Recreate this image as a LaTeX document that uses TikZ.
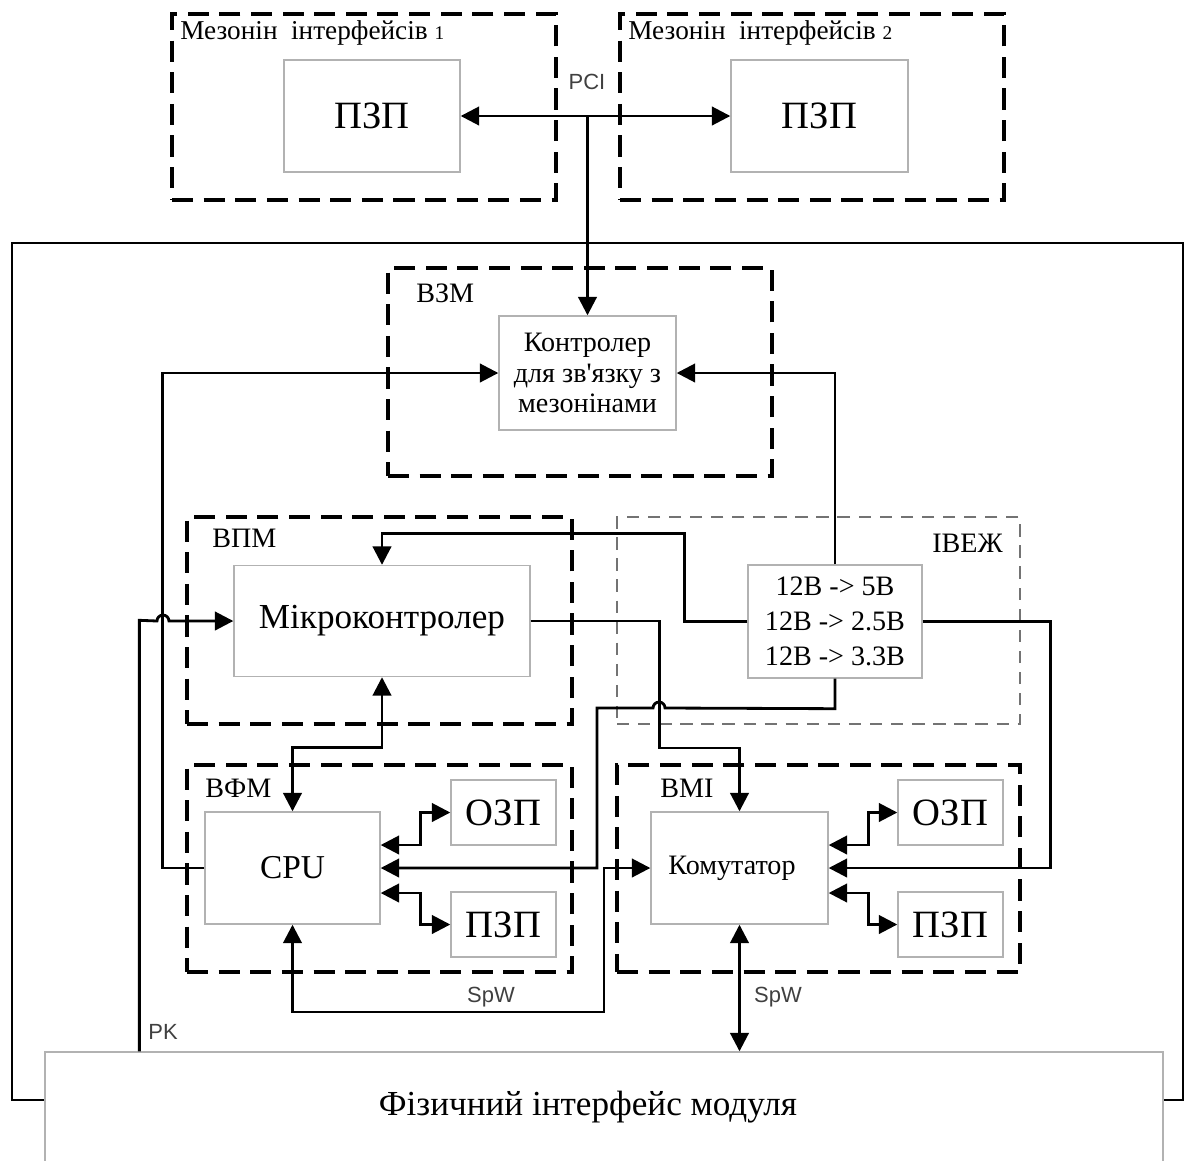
\documentclass[tikz,border=0pt]{standalone}
\usepackage{fontspec}
\setmainfont{Liberation Serif}[Ligatures=TeXOff]
\newfontfamily\sansf{Liberation Sans}
\usetikzlibrary{arrows.meta}

\newcommand{\fntBig}{\fontsize{22}{24}\selectfont}
\newcommand{\fntMcu}{\fontsize{20}{22}\selectfont}
\newcommand{\fntTxt}{\fontsize{16}{17.6}\selectfont}
\newcommand{\fntSig}{\sansf\fontsize{12.5}{13}\selectfont}

\begin{document}
\begin{tikzpicture}[x=0.02cm,y=-0.02cm,>={Triangle[length=10.5pt,width=10.5pt]},
  blk/.style={draw=black!30,line width=0.8pt,fill=white,inner sep=0pt,align=center},
  grp/.style={draw,line width=1.8pt,dash pattern=on 12pt off 6pt,inner sep=0pt},
  grpg/.style={draw=black!55,line width=1.1pt,dash pattern=on 7pt off 5pt,inner sep=0pt},
  wire/.style={line width=1.6pt},
  lbl/.style={anchor=west,inner sep=0pt,font=\fntTxt},
  sig/.style={inner sep=0pt,text=black!75,font=\fntSig}]
  \def\jr{3.4pt}   % radius of the crossing bumps
  \clip (0,0) rectangle (1187,1160);

  % module frame
  \draw[line width=1.5pt] (12,243) rectangle (1183,1100);

  % dashed functional groups
  \node[grp,minimum width=7.68cm,minimum height=3.72cm] (mezA) at (364,107) {};
  \node[grp,minimum width=7.68cm,minimum height=3.72cm] (mezB) at (812,107) {};
  \node[grp,minimum width=7.68cm,minimum height=4.16cm] (vzm) at (580,372) {};
  \node[grp,minimum width=7.70cm,minimum height=4.14cm] (vpm) at (379.5,620.5) {};
  \node[grpg,minimum width=8.06cm,minimum height=4.14cm] (ivezh) at (818.5,620.5) {};
  \node[grp,minimum width=7.70cm,minimum height=4.14cm] (vfm) at (379.5,868.5) {};
  \node[grp,minimum width=8.06cm,minimum height=4.14cm] (vmi) at (818.5,868.5) {};

  % group captions
  \node[lbl,font=\fontsize{15.5}{16}\selectfont] (mezAL) at (180,33) {Мезонін~~інтерфейсів {\fontsize{11}{11}\selectfont 1}};
  \node[lbl,font=\fontsize{15.5}{16}\selectfont] (mezBL) at (628,33) {Мезонін~~інтерфейсів {\fontsize{11}{11}\selectfont 2}};
  \node[lbl] (vzmL) at (416,293) {ВЗМ};
  \node[lbl] (vpmL) at (212,538) {ВПМ};
  \node[lbl] (ivezhL) at (932,543) {ІВЕЖ};
  \node[lbl] (vfmL) at (205,788) {ВФМ};
  \node[lbl] (vmiL) at (660,788) {ВМІ};

  % blocks
  \node[blk,minimum width=3.52cm,minimum height=2.24cm,font=\fntBig] (pzpA) at (372,116) {ПЗП};
  \node[blk,minimum width=3.54cm,minimum height=2.24cm,font=\fntBig] (pzpB) at (819.5,116) {ПЗП};
  \node[blk,minimum width=3.54cm,minimum height=2.28cm,font=\fntTxt] (ctrl) at (587.5,373) {Контролер\\для зв'язку з\\мезонінами};
  \node[blk,minimum width=5.92cm,minimum height=2.22cm,font=\fntMcu] (mcu) at (382,621) {Мікроконтролер};
  \node[blk,minimum width=3.48cm,minimum height=2.26cm,font=\fontsize{16}{19.8}\selectfont] (conv) at (835,621.5) {12В -> 5В\\12В -> 2.5В\\12В -> 3.3В};
  \node[blk,minimum width=3.50cm,minimum height=2.24cm,font=\fontsize{19}{20}\selectfont] (cpu) at (292.5,868) {CPU};
  \node[blk,minimum width=2.10cm,minimum height=1.30cm,font=\fntBig] (ram1) at (503.5,812.5) {ОЗП};
  \node[blk,minimum width=2.10cm,minimum height=1.30cm,font=\fntBig] (rom1) at (503.5,924.5) {ПЗП};
  \node[blk,minimum width=3.54cm,minimum height=2.24cm,font=\fntTxt] (sw) at (739.5,868) {\hspace*{-0.3cm}Комутатор};
  \node[blk,minimum width=2.10cm,minimum height=1.30cm,font=\fntBig] (ram2) at (950.5,812.5) {ОЗП};
  \node[blk,minimum width=2.10cm,minimum height=1.30cm,font=\fntBig] (rom2) at (950.5,924.5) {ПЗП};
  \node[blk,minimum width=22.36cm,minimum height=2.20cm,font=\fntMcu] (phy) at (604,1107) {\hspace*{-0.64cm}Фізичний інтерфейс модуля};

  % PCI bus between mezzanines
  \draw[wire,<->] (pzpA) -- (pzpB);
  \coordinate (pci) at (587.5,116);
  \draw[wire,->] (pci) -- (ctrl.north);

  % links to the mezzanine controller
  \draw[wire,->] (cpu.west) -- ++(-42,0) |- (ctrl.west);
  \draw[wire,->] (conv.north) |- (ctrl.east);

  % power converter outputs
  \draw[wire,->] (conv.west) -- ++(-63,0) -- ++(0,-88) -| (mcu.north);
  \draw[wire,->] (conv.east) -- ++(128,0) |- (sw.east);
  \draw[wire,->] (conv.south) -- ++(0,30) -- (665,708)
    arc[start angle=0,end angle=180,radius=\jr] -- (597,708) |- (cpu.east);

  % microcontroller links
  \draw[wire,->] (mcu.east) -- ++(129,0) -- ++(0,127) -| (sw.north);
  \draw[wire,<->] (mcu.south) -- ++(0,70) -| (cpu.north);
  \draw[wire,->] ([xshift=1.9cm]phy.north west) -- ++(0,-431) -- (157,621)
    arc[start angle=180,end angle=0,radius=\jr] -- (mcu.west);

  % memories
  \foreach \u/\r/\p in {cpu/ram1/rom1, sw/ram2/rom2}{
    \draw[wire,<->] ([yshift=0.46cm]\u.east) -- ++(40,0) |- (\r.west);
    \draw[wire,<->] ([yshift=-0.5cm]\u.east) -- ++(40,0) |- (\p.west);
  }

  % SpaceWire
  \draw[wire,<->] (cpu.south) |- (604,1012) |- (sw.west);
  \draw[wire,<->] (sw.south) -- (sw.south |- phy.north);

  % signal names
  \node[sig] (pciL) at (587,82) {PCI};
  \node[sig] (spwA) at (491,997) {SpW};
  \node[sig] (spwB) at (778,997) {SpW};
  \node[sig] (pkL) at (163,1032) {PK};
\end{tikzpicture}
\end{document}
